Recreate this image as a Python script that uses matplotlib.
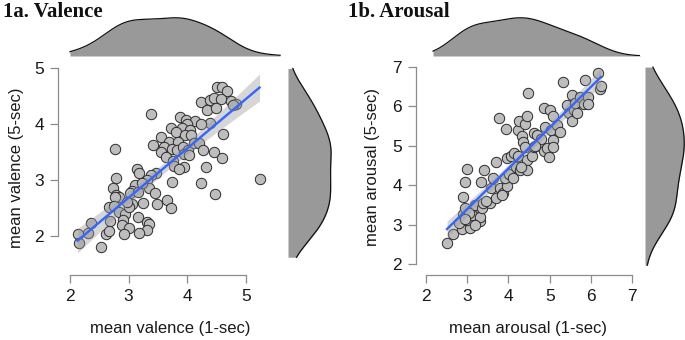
import numpy as np
import matplotlib
matplotlib.use("Agg")
import matplotlib.pyplot as plt

# ---------------- data ----------------
val_1s = [3.38, 2.76, 4.50, 4.59, 4.67, 4.24, 4.39, 4.45, 4.57, 4.33, 4.48, 4.74, 4.83, 4.77,
          4.39, 4.61, 3.87, 3.98, 4.13, 4.24, 4.00, 3.91, 4.05, 3.73, 3.81, 3.96, 4.07,
          3.55, 3.42, 3.68, 3.84, 3.60, 3.74, 3.82, 3.93, 4.01, 4.11, 4.20, 4.27,
          3.55, 3.64, 3.95, 4.02, 4.45, 4.59, 3.75, 3.78, 3.94, 4.31, 3.86,
          3.47, 3.38, 3.32, 3.14, 3.18, 3.74, 4.24, 4.47, 5.23,
          2.78, 2.74, 2.78, 2.84, 2.77, 3.11, 3.05, 3.02, 3.16, 3.34, 3.45, 3.25, 3.05, 3.49,
          3.66, 3.73, 2.67, 2.75, 2.69, 2.84, 2.94, 2.91, 2.89, 3.00, 2.92, 2.61, 2.67,
          3.16, 3.31, 3.34, 3.32, 3.18, 2.35, 2.30, 2.13, 2.15, 2.53, 3.00, 3.22, 2.98]
val_5s = [4.18, 3.56, 4.66, 4.66, 4.59, 4.40, 4.43, 4.48, 4.46, 4.26, 4.30, 4.42, 4.36, 4.35,
          4.03, 3.83, 4.13, 4.08, 4.06, 4.01, 4.00, 3.93, 3.90, 3.94, 3.87, 3.82, 3.81,
          3.77, 3.63, 3.68, 3.68, 3.59, 3.56, 3.54, 3.59, 3.54, 3.66, 3.66, 3.54,
          3.50, 3.41, 3.47, 3.46, 3.50, 3.40, 3.34, 3.25, 3.24, 3.24, 3.21,
          3.14, 3.10, 3.01, 3.20, 3.13, 2.98, 2.95, 2.75, 3.02,
          3.04, 2.86, 2.74, 2.71, 2.70, 2.92, 2.82, 2.77, 2.80, 2.86, 2.77, 2.59, 2.58, 2.58,
          2.65, 2.50, 2.52, 2.55, 2.28, 2.43, 2.40, 2.29, 2.20, 2.15, 2.05, 2.04, 2.09,
          2.35, 2.25, 2.23, 2.12, 2.06, 2.24, 2.07, 2.04, 1.89, 1.82, 2.53, 2.95, 2.62]

aro_1s = [2.51, 2.66, 2.87, 2.80, 3.07, 3.00, 2.89, 2.95, 2.89, 2.94, 3.00, 3.15, 3.11, 3.19,
          3.31, 3.30, 3.35, 3.39, 3.33, 3.41, 3.55, 3.70, 3.57, 3.63, 3.70, 3.76, 3.94,
          3.80, 3.86, 3.97, 3.92, 4.02, 4.10, 3.96, 4.05, 4.14, 4.24, 4.18, 4.28, 4.24,
          4.26, 4.32, 4.36, 4.40, 4.46, 4.48, 4.40, 4.44, 4.46, 4.56, 4.61, 4.69, 4.62,
          4.73, 4.78, 4.85, 4.89, 4.85, 4.93, 4.99, 5.01, 5.03, 5.09, 5.09, 5.07, 5.17,
          5.25, 5.32, 5.41, 5.48, 5.53, 5.54, 5.58, 5.66, 5.62, 5.74, 5.86, 5.82, 5.94,
          5.92, 6.16, 6.21, 6.24, 3.05, 2.95, 3.20, 3.45, 3.85, 4.30, 4.65]
aro_5s = [2.52, 2.76, 2.88, 3.03, 2.91, 3.12, 3.27, 3.42, 3.71, 4.09, 4.42, 3.37, 3.25, 3.50,
          3.08, 3.20, 3.42, 3.54, 4.07, 4.39, 3.54, 3.67, 3.92, 4.18, 4.60, 5.70, 5.43,
          3.94, 3.80, 3.97, 4.18, 4.28, 4.18, 4.69, 4.73, 4.81, 4.73, 4.47, 4.39, 5.41,
          5.62, 5.24, 5.11, 5.56, 5.75, 6.34, 4.98, 4.64, 4.39, 4.73, 5.32, 5.28, 4.98,
          5.07, 5.17, 5.96, 5.49, 4.86, 4.94, 4.71, 5.92, 5.41, 5.75, 5.15, 4.97, 5.53,
          5.34, 6.61, 6.04, 5.83, 6.30, 5.62, 5.92, 5.83, 6.08, 6.25, 6.68, 6.07, 6.25,
          6.07, 6.86, 6.44, 6.51, 3.30, 3.15, 3.00, 3.60, 3.75, 4.45, 5.00]

val_ticks_x = [2, 3, 4, 5]
val_ticks_y = [2, 3, 4, 5]
aro_ticks = [2, 3, 4, 5, 6, 7]

# ---------------- style ----------------
W, H = 685, 340
fig = plt.figure(figsize=(W / 100, H / 100), dpi=100)
SANS = ["Liberation Sans", "DejaVu Sans"]
SERIF = ["Liberation Serif", "DejaVu Serif"]
AXC = "#8c8c8c"
ADJUST = 1.25


def ax_px(l, t, r, b):
    return fig.add_axes([l / W, 1 - b / H, (r - l) / W, (b - t) / H])


def nrd0(x):
    x = np.asarray(x)
    sd = x.std(ddof=1)
    q75, q25 = np.percentile(x, [75, 25])
    lo = min(sd, (q75 - q25) / 1.34)
    return 0.9 * lo * len(x) ** (-0.2)


def kde(x, grid):
    x = np.asarray(x)
    bw = nrd0(x) * ADJUST
    z = (grid[:, None] - x[None, :]) / bw
    return np.exp(-0.5 * z ** 2).sum(axis=1) / (len(x) * bw * np.sqrt(2 * np.pi))


def panel(x, y, box, xlim, ylim, xticks, yticks, xlabel, ylabel, title, tpos,
          top_box, right_box, xr, yr, ylab_x):
    x = np.asarray(x); y = np.asarray(y)
    ax = ax_px(*box)
    ax.set_xlim(xlim); ax.set_ylim(ylim)
    # regression + CI
    n = len(x)
    b1, b0 = np.polyfit(x, y, 1)
    xs = np.linspace(x.min(), x.max(), 100)
    yh = b0 + b1 * xs
    res = y - (b0 + b1 * x)
    s = np.sqrt((res ** 2).sum() / (n - 2))
    se = s * np.sqrt(1 / n + (xs - x.mean()) ** 2 / ((x - x.mean()) ** 2).sum())
    tq = 1.984
    ax.fill_between(xs, yh - tq * se, yh + tq * se, color="#999999", alpha=0.4, lw=0, zorder=3)
    ax.scatter(x, y, s=56, facecolor="#bdbdbd", edgecolor="#2b2b2b", linewidth=0.7, zorder=2)
    ax.plot(xs, yh, color="#3366FF", lw=1.7, zorder=4)
    for sp in ["top", "right"]:
        ax.spines[sp].set_visible(False)
    ax.spines["left"].set_bounds(yticks[0], yticks[-1])
    ax.spines["bottom"].set_bounds(xticks[0], xticks[-1])
    for sp in ["left", "bottom"]:
        ax.spines[sp].set_color(AXC)
        ax.spines[sp].set_linewidth(0.9)
    ax.set_xticks(xticks); ax.set_yticks(yticks)
    ax.tick_params(colors=AXC, labelcolor="#1a1a1a", length=6, width=0.9, labelsize=12.5)
    ax.tick_params(axis="y", pad=4)
    ax.tick_params(axis="x", pad=4)
    for lab in ax.get_xticklabels() + ax.get_yticklabels():
        lab.set_family(SANS)
    ax.set_xlabel(xlabel, fontsize=12, family=SANS, color="#1a1a1a", labelpad=12)
    ax.yaxis.set_label_coords((ylab_x - box[0]) / (box[2] - box[0]), 0.5)
    ax.set_ylabel(ylabel, fontsize=12, family=SANS, color="#1a1a1a", va="center")

    # top marginal
    axt = ax_px(*top_box)
    gx = np.linspace(xr[0], xr[1], 300)
    dx = kde(x, gx)
    axt.fill_between(gx, 0, dx, color="#999999", lw=0)
    axt.plot(gx, dx, color="#111111", lw=0.9)
    axt.set_xlim(xlim); axt.set_ylim(0, dx.max() * 1.02)
    axt.axis("off")

    # right marginal
    axr = ax_px(*right_box)
    gy = np.linspace(yr[0], yr[1], 300)
    dy = kde(y, gy)
    axr.fill_betweenx(gy, 0, dy, color="#999999", lw=0)
    axr.plot(dy, gy, color="#111111", lw=0.9)
    axr.set_ylim(ylim); axr.set_xlim(0, dy.max() * 1.02)
    axr.axis("off")

    fig.text(tpos[0] / W, 1 - tpos[1] / H, title, family=SERIF, weight="bold",
             fontsize=15, va="center", ha="left", color="#111111")


panel(val_1s, val_5s, (58, 60, 283, 275), (1.796, 5.63), (1.3125, 5.15),
      val_ticks_x, val_ticks_y, "mean valence (1-sec)", "mean valence (5-sec)",
      "1a. Valence", (3, 12), (58, 17, 283, 56), (288, 60, 332, 275),
      (2.0, 5.58), (1.63, 5.0), 17)

panel(aro_1s, aro_5s, (416, 60, 640, 275), (1.757, 7.19), (1.72, 7.18),
      aro_ticks, aro_ticks, "mean arousal (1-sec)", "mean arousal (5-sec)",
      "1b. Arousal", (348, 12), (416, 17, 640, 56), (645, 60, 685, 275),
      (2.17, 7.2), (1.97, 7.0), 373)

fig.savefig("out.png", dpi=100, facecolor="white")
